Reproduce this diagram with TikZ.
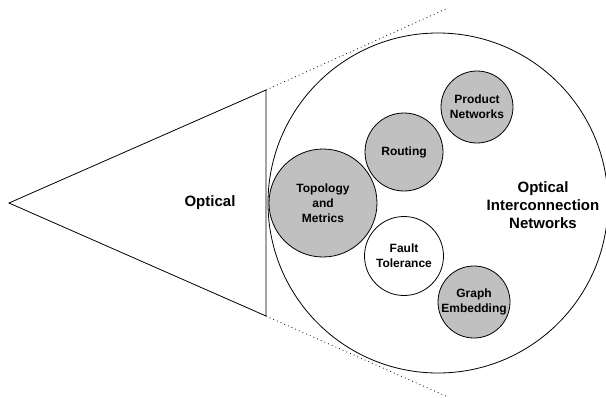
\documentclass[tikz,border=0pt]{standalone}
\usepackage{fontspec}
\setmainfont{Liberation Sans}
\definecolor{subgray}{HTML}{C0C0C0}
\begin{document}
\begin{tikzpicture}[x=1pt,y=-1pt,line width=0.8pt,
  sub/.style={circle,draw,fill=subgray,align=center,inner sep=0pt,font=\fontsize{12}{15}\selectfont\bfseries},
  bigtext/.style={align=center,font=\fontsize{15}{18}\selectfont\bfseries},
  dotline/.style={line width=0.8pt,dash pattern=on 0.8pt off 3.2pt}]
\useasboundingbox (0,0) rectangle (606,397);
\coordinate (apex) at (9,203);
\coordinate (tri top) at (266,90);
\coordinate (tri bot) at (266,316);
\coordinate (dot top) at (448,8);
\coordinate (dot bot) at (448,397);
\draw[dotline] (tri top) -- (dot top);
\draw[dotline] (tri bot) -- (dot bot);
\draw (apex) -- (tri top) -- (tri bot) -- cycle;
\node[bigtext] (optical) at (210,203) {Optical};
\node[circle,draw,minimum size=340pt,inner sep=0pt] (big) at (438,203) {};
\node[bigtext] (oin) at (543,205) {Optical\\Interconnection\\Networks};
\node[sub,minimum size=108pt] (topo) at (323,203) {Topology\\and\\Metrics};
\node[sub,minimum size=78pt] (routing) at (404,152) {Routing};
\node[sub,minimum size=72pt] (product) at (477,107) {Product\\Networks};
\node[sub,fill=white,minimum size=79pt] (fault) at (404,256) {Fault\\Tolerance};
\node[sub,minimum size=72pt] (graph) at (474,302) {Graph\\Embedding};
\end{tikzpicture}
\end{document}
